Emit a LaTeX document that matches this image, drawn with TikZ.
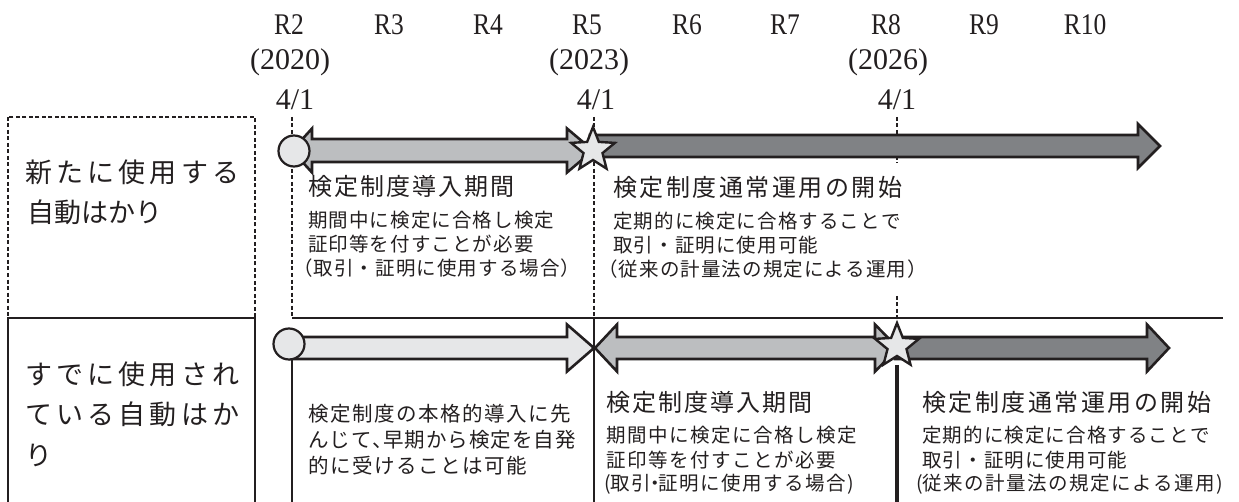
\documentclass[tikz,border=0pt]{standalone}
\usepackage{fontspec}
\setmainfont{Liberation Serif}
\newfontfamily\jpf{Noto Sans CJK JP}
\usetikzlibrary{shapes.geometric}
\definecolor{ink}{HTML}{231F20}
\definecolor{gLight}{HTML}{E6E7E8}
\definecolor{gMid}{HTML}{BCBEC0}
\definecolor{gDark}{HTML}{808285}
\newdimen\lspk
\def\lsp#1#2{\lspk=#1\relax\lspA#2\relax}
\def\lspA#1{\ifx\relax#1\else#1\kern\lspk\expandafter\lspA\fi}
\begin{document}
\begin{tikzpicture}[x=1bp,y=-1bp,
  jbig/.style={anchor=west,inner sep=0pt,text=ink,font=\jpf\fontsize{27bp}{32bp}\selectfont},
  jhead/.style={anchor=west,inner sep=0pt,text=ink,font=\jpf\fontsize{24bp}{28bp}\selectfont},
  jsmall/.style={anchor=west,inner sep=0pt,text=ink,font=\jpf\fontsize{19.5bp}{23bp}\selectfont},
  jmid/.style={anchor=west,inner sep=0pt,text=ink,font=\jpf\fontsize{20.5bp}{24bp}\selectfont},
  yr/.style={inner sep=0pt,text=ink,font=\fontsize{30bp}{34bp}\selectfont},
  dashline/.style={draw=ink,line width=1.6bp,dash pattern=on 4bp off 2.5bp},
  solidline/.style={draw=ink,line width=2.2bp},
  arrowbody/.style={draw=ink,line width=2.6bp,line join=miter},
  startdot/.style={circle,draw=ink,line width=2.2bp,fill=gLight,minimum size=31bp,inner sep=0pt},
  starmark/.style={star,star points=5,star point ratio=2.3,draw=ink,line width=2.4bp,fill=gLight,minimum size=46bp,inner sep=0pt},
]
\useasboundingbox (0,0) rectangle (1239,502);
\clip (0,0) rectangle (1239,502);

% header
\node[yr] (r2) at (289,25) {\scalebox{0.85}[1]{R2}};
\node[yr] (r3) at (389,25) {\scalebox{0.85}[1]{R3}};
\node[yr] (r4) at (488,25) {\scalebox{0.85}[1]{R4}};
\node[yr] (r5) at (587,25) {\scalebox{0.85}[1]{R5}};
\node[yr] (r6) at (687,25) {\scalebox{0.85}[1]{R6}};
\node[yr] (r7) at (785,25) {\scalebox{0.85}[1]{R7}};
\node[yr] (r8) at (886,25) {\scalebox{0.85}[1]{R8}};
\node[yr] (r9) at (984,25) {\scalebox{0.85}[1]{R9}};
\node[yr] (r10) at (1085,25) {\scalebox{0.85}[1]{R10}};
\node[yr] (y20) at (290,62) {(2020)};
\node[yr] (y23) at (589,62) {(2023)};
\node[yr] (y26) at (888,62) {(2026)};
\node[yr] (d20) at (295,100) {4/1};
\node[yr] (d23) at (596,100) {4/1};
\node[yr] (d26) at (897,100) {4/1};

% coordinates
\coordinate (boxTL) at (8,117);
\coordinate (boxBR) at (255,318);
\coordinate (vA1) at (292,117);
\coordinate (vA2) at (292,318);
\coordinate (vA3) at (292,358);
\coordinate (vA4) at (292,503);
\coordinate (vB1) at (594,117);
\coordinate (vB2) at (594,318);
\coordinate (vB3) at (594,503);
\coordinate (vC1) at (897,117);
\coordinate (vC2) at (897,163);
\coordinate (vC3) at (897,296);
\coordinate (vC4) at (897,318);
\coordinate (vC5) at (897,365);
\coordinate (vC6) at (897,503);
\coordinate (hL) at (292,318);
\coordinate (hR) at (1223,318);

% frames and guide lines
\draw[dashline] (boxTL) rectangle (boxBR);
\draw[dashline] (vA1) -- (vA2);
\draw[dashline] (vB1) -- (vB2);
\draw[dashline] (vC1) -- (vC2);
\draw[dashline] (vC3) -- (vC4);
\draw[solidline] (8,503) -- (8,318) -- (255,318) -- (255,503);
\draw[solidline,line width=2.5bp] (hL) -- (hR);
\draw[solidline,line width=2.5bp] (vA3) -- (vA4);
\draw[solidline,line width=2.5bp] (vB2) -- (vB3);
\draw[solidline,line width=3.2bp] (vC5) -- (vC6);

% row 1 arrows
\path[arrowbody,fill=gMid] (292,150.5) -- (312,128.5) -- (312,139) -- (567,139) -- (567,128.5) -- (593,150.5) -- (567,172.5) -- (567,162) -- (312,162) -- (312,172.5) -- cycle;
\path[arrowbody,fill=gDark] (590,135) -- (1138,135) -- (1138,124) -- (1160,146) -- (1138,168) -- (1138,157) -- (590,157) -- cycle;
\node[startdot] (c1) at (294,151) {};
\node[starmark] (s1) at (593,150) {};

% row 2 arrows
\path[arrowbody,fill=gLight] (290,337) -- (567,337) -- (567,324.5) -- (594,348) -- (567,371.5) -- (567,359) -- (290,359) -- cycle;
\path[arrowbody,fill=gMid] (595,348) -- (617,324.5) -- (617,337) -- (875,337) -- (875,324.5) -- (898,348) -- (875,371.5) -- (875,359) -- (617,359) -- (617,371.5) -- cycle;
\path[arrowbody,fill=gDark] (895,337) -- (1147,337) -- (1147,324.5) -- (1169,348) -- (1147,371.5) -- (1147,359) -- (895,359) -- cycle;
\node[startdot] (c2) at (289,344) {};
\node[starmark] (s2) at (897,346) {};

% left labels
\node[jbig] (l1a) at (25,172) {\lsp{4.2bp}{新たに使用する}};
\node[jbig] (l1b) at (27,212) {\lsp{0bp}{自動はかり}};
\node[jbig] (l2a) at (25,374) {\lsp{4.2bp}{すでに使用され}};
\node[jbig] (l2b) at (25,414) {\lsp{4.2bp}{ている自動はか}};
\node[jbig] (l2c) at (25,455) {り};

% row 1 texts
\node[jhead] (h1) at (308,186) {\lsp{2bp}{検定制度導入期間}};
\node[jsmall] (t1a) at (308,220) {\lsp{1.1bp}{期間中に検定に合格し検定}};
\node[jsmall] (t1b) at (308,244) {\lsp{1.1bp}{証印等を付すことが必要}};
\node[jsmall] (t1c) at (293,268) {\lsp{1.1bp}{（取引・証明に使用する場合）}};
\node[jhead] (h2) at (613,187) {\lsp{2.5bp}{検定制度通常運用の開始}};
\node[jsmall] (t2a) at (613,221) {\lsp{1.1bp}{定期的に検定に合格することで}};
\node[jsmall] (t2b) at (613,245) {\lsp{1.1bp}{取引・証明に使用可能}};
\node[jsmall] (t2c) at (598,269) {\lsp{1.1bp}{（従来の計量法の規定による運用）}};

% row 2 texts
\node[jmid] (u1a) at (308,414) {\lsp{1.5bp}{検定制度の本格的導入に先}};
\node[jmid] (u1b) at (308,440) {\lsp{1bp}{んじて、}\kern-11bp\lsp{1bp}{早期から検定を自発}};
\node[jmid] (u1c) at (308,466) {\lsp{1.5bp}{的に受けることは可能}};
\node[jhead] (h3) at (606,402) {\lsp{2bp}{検定制度導入期間}};
\node[jsmall] (t3a) at (606,435) {\lsp{1.5bp}{期間中に検定に合格し検定}};
\node[jsmall] (t3b) at (606,460) {\lsp{1.5bp}{証印等を付すことが必要}};
\node[jsmall] (t3c) at (604,484) {(\lsp{1.5bp}{取引}\kern-7bp・\kern-7bp\lsp{1.5bp}{証明に使用する場合})};
\node[jhead] (h4) at (922,402) {\lsp{2.5bp}{検定制度通常運用の開始}};
\node[jsmall] (t4a) at (922,435) {\lsp{1.1bp}{定期的に検定に合格することで}};
\node[jsmall] (t4b) at (922,460) {\lsp{1.1bp}{取引・証明に使用可能}};
\node[jsmall] (t4c) at (916,484) {(\lsp{1.5bp}{従来の計量法の規定による運用})};
\end{tikzpicture}
\end{document}
